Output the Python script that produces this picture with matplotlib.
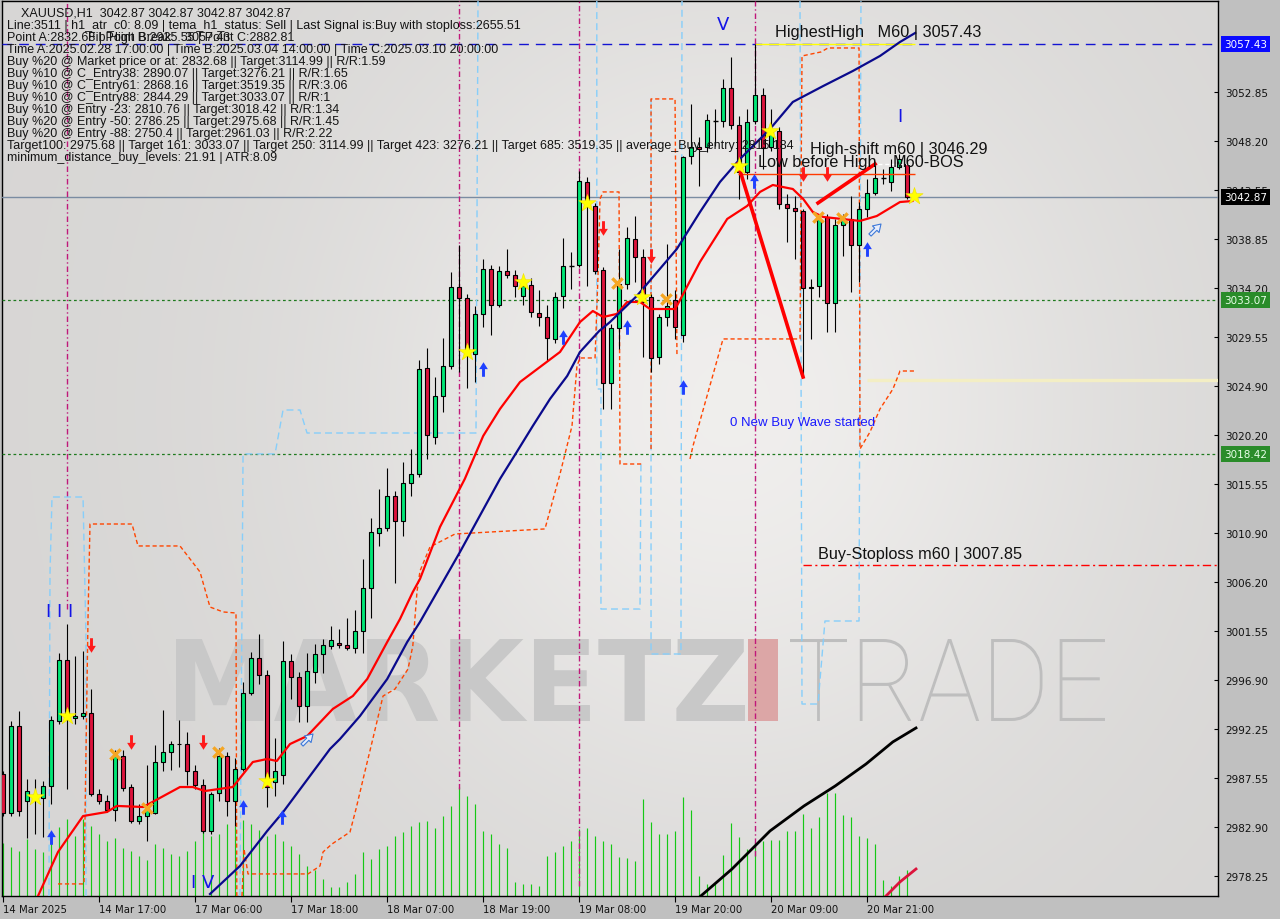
import numpy as np
import matplotlib
matplotlib.use("Agg")
import matplotlib.pyplot as plt
from matplotlib.path import Path
from matplotlib.patches import PathPatch, Rectangle
from matplotlib.textpath import TextPath
from matplotlib.font_manager import FontProperties
from matplotlib.transforms import Affine2D, blended_transform_factory

# ------------------------------------------------------------------ data
time_labels = ["14 Mar 2025", "14 Mar 17:00", "17 Mar 06:00", "17 Mar 18:00", "18 Mar 07:00",
               "18 Mar 19:00", "19 Mar 08:00", "19 Mar 20:00", "20 Mar 09:00", "20 Mar 21:00"]
time_label_bars = [0, 12, 24, 36, 48, 60, 72, 84, 96, 108]

opens = [2987.96, 2984.25, 2992.53, 2985.39, 2985.87, 2985.68, 2986.82, 2993.01, 2998.82, 2993.29,
         2993.48, 2993.77, 2986.06, 2985.39, 2984.54, 2989.63, 2986.72, 2983.49, 2983.96, 2984.25,
         2989.10, 2990.05, 2990.81, 2990.81, 2988.25, 2986.91, 2982.54, 2986.15, 2989.63, 2985.39,
         2988.44, 2995.67, 2999.00, 2997.38, 2987.20, 2987.87, 2998.72, 2997.19, 2994.43, 2997.67,
         2999.38, 3000.14, 3000.43, 3000.24, 2999.95, 3001.57, 3005.66, 3010.90, 3011.37, 3014.42,
         3012.04, 3015.66, 3016.51, 3026.60, 3020.03, 3023.93, 3026.79, 3034.30, 3033.26, 3027.93,
         3031.74, 3036.02, 3032.59, 3035.83, 3035.45, 3033.45, 3034.50, 3031.83, 3031.45, 3029.36,
         3033.45, 3036.30, 3036.40, 3044.30, 3042.01, 3035.92, 3025.17, 3030.40, 3034.59, 3038.87,
         3037.16, 3033.35, 3027.65, 3031.45, 3033.07, 3029.74, 3046.77, 3047.63, 3047.63, 3050.10,
         3050.10, 3053.24, 3049.72, 3045.25, 3050.10, 3052.58, 3047.63, 3049.15, 3042.20, 3041.82,
         3041.54, 3034.21, 3034.40, 3040.97, 3032.78, 3040.21, 3040.78, 3038.30, 3041.73, 3043.25,
         3044.68, 3044.30, 3045.73, 3046.01]
highs = [2988.25, 2993.01, 2993.96, 2987.48, 2987.48, 2987.30, 2993.48, 2999.48, 3002.24, 2999.20,
         2999.67, 2996.05, 2986.53, 2985.96, 2990.29, 2990.29, 2987.01, 2985.11, 2988.82, 2990.72,
         2994.05, 2991.10, 2993.10, 2991.96, 2988.82, 2987.48, 2986.25, 2990.39, 2990.05, 2989.49,
         2996.72, 2999.57, 3001.28, 2997.86, 2991.39, 3000.62, 2999.38, 2997.67, 2999.48, 3000.33,
         3000.81, 3002.05, 3001.76, 3002.81, 3003.57, 3008.42, 3012.33, 3015.08, 3017.08, 3014.89,
         3017.65, 3018.89, 3027.36, 3028.50, 3025.74, 3029.45, 3035.73, 3038.30, 3033.64, 3032.50,
         3036.97, 3036.40, 3036.30, 3037.92, 3035.92, 3035.07, 3035.16, 3034.02, 3032.59, 3033.83,
         3038.97, 3037.64, 3045.34, 3044.77, 3042.30, 3036.21, 3030.78, 3037.92, 3040.02, 3041.06,
         3037.92, 3033.64, 3031.74, 3038.40, 3034.02, 3046.77, 3051.72, 3048.58, 3050.77, 3051.25,
         3054.10, 3056.19, 3050.58, 3051.25, 3057.43, 3053.24, 3051.25, 3049.53, 3043.16, 3042.97,
         3041.73, 3035.07, 3041.25, 3041.25, 3040.78, 3041.25, 3042.97, 3042.39, 3044.58, 3046.01,
         3045.54, 3046.49, 3046.96, 3046.49]
lows = [2983.96, 2983.96, 2983.96, 2981.87, 2982.25, 2981.96, 2985.11, 2992.72, 2986.53, 2992.72,
        2993.20, 2985.87, 2985.11, 2984.35, 2983.49, 2986.34, 2983.30, 2983.20, 2981.59, 2984.16,
        2988.25, 2988.34, 2988.63, 2986.91, 2986.53, 2982.35, 2982.25, 2985.39, 2983.96, 2983.01,
        2988.25, 2995.48, 2996.53, 2984.82, 2985.87, 2987.01, 2995.10, 2992.91, 2992.91, 2996.62,
        2997.57, 2999.86, 2999.95, 2999.76, 2999.48, 2999.48, 3002.81, 3009.66, 3011.09, 3006.14,
        3010.61, 3014.42, 3016.23, 3017.94, 3019.36, 3022.41, 3026.50, 3026.22, 3024.69, 3025.27,
        3030.50, 3029.74, 3032.40, 3035.16, 3033.35, 3032.59, 3031.45, 3030.60, 3027.26, 3028.98,
        3032.31, 3034.11, 3036.21, 3034.40, 3035.54, 3022.70, 3022.70, 3028.41, 3034.11, 3034.78,
        3027.65, 3026.22, 3026.98, 3030.60, 3029.36, 3029.07, 3046.01, 3043.92, 3047.15, 3047.72,
        3049.53, 3049.34, 3042.68, 3044.58, 3049.82, 3045.54, 3047.25, 3041.73, 3038.59, 3036.97,
        3025.74, 3029.36, 3033.35, 3030.02, 3030.02, 3037.26, 3033.83, 3034.78, 3040.97, 3043.06,
        3044.11, 3043.44, 3045.54, 3042.68]
closes = [2984.25, 2992.53, 2984.44, 2986.34, 2985.96, 2986.82, 2993.10, 2998.82, 2993.20, 2993.48,
          2993.77, 2986.06, 2985.39, 2984.54, 2989.63, 2986.63, 2983.49, 2983.96, 2984.92, 2989.10,
          2990.05, 2990.81, 2990.86, 2988.25, 2986.91, 2982.54, 2986.06, 2989.63, 2985.39, 2988.44,
          2995.67, 2999.00, 2997.38, 2986.72, 2988.25, 2998.72, 2997.19, 2994.43, 2997.76, 2999.38,
          3000.24, 3000.72, 3000.24, 2999.95, 3001.57, 3005.66, 3011.00, 3011.37, 3014.42, 3012.04,
          3015.66, 3016.51, 3026.50, 3020.22, 3023.93, 3026.79, 3034.30, 3033.26, 3027.93, 3031.74,
          3036.02, 3032.59, 3035.83, 3035.45, 3034.40, 3034.40, 3031.93, 3031.45, 3029.45, 3033.35,
          3036.30, 3036.30, 3044.39, 3042.11, 3035.83, 3025.17, 3030.40, 3034.59, 3038.97, 3037.16,
          3032.88, 3027.55, 3031.45, 3032.50, 3030.50, 3046.68, 3047.63, 3047.44, 3050.20, 3050.10,
          3053.24, 3049.72, 3045.25, 3050.01, 3052.58, 3047.53, 3049.06, 3042.20, 3041.82, 3041.54,
          3034.21, 3034.30, 3040.78, 3032.78, 3040.21, 3040.78, 3038.30, 3041.73, 3043.25, 3044.68,
          3044.68, 3045.73, 3046.49, 3042.87]
tick_volume = [53, 49, 45, 57, 47, 44, 64, 69, 77, 60, 77, 70,
               62, 55, 58, 48, 45, 40, 36, 52, 48, 42, 40, 45,
               55, 65, 60, 62, 72, 70, 76, 72, 66, 60, 62, 55,
               50, 42, 30, 26, 17, 9, 9, 14, 22, 44, 37, 47,
               50, 60, 64, 70, 74, 75, 68, 80, 90, 109, 100, 92,
               65, 62, 52, 48, 14, 12, 12, 10, 40, 44, 50, 55,
               67, 68, 60, 55, 52, 39, 38, 35, 97, 74, 62, 62,
               65, 99, 86, 20, 12, 12, 41, 73, 59, 47, 54, 55,
               56, 56, 65, 65, 82, 68, 79, 103, 103, 81, 79, 60,
               58, 52, 16, 10, 20, 26]
VOLUME_AXIS_MAX = 895.0

# moving-average style lines (bar position, price)
red_ma_bar = [4.35, 6.85, 9.98, 12.98, 14.2, 17.5, 22.1, 23.7, 25.2, 28.7, 31.2, 33.0, 34.2, 35.85,
              38.0, 41.2, 43.7, 45.5, 48.0, 49.6, 51.2, 52.1, 54.6, 57.7, 60.0, 62.1, 64.6, 67.1,
              69.6, 72.1, 73.7, 75.0, 76.7, 78.0, 79.6, 80.85, 84.0, 85.0, 87.1, 90.5, 93.0, 94.6,
              96.2, 98.7, 100.0, 101.2, 102.5, 107.1, 109.2, 112.1, 113.7]
red_ma_price = [2976.35, 2980.54, 2983.96, 2984.35, 2984.92, 2984.82, 2986.72, 2986.72, 2986.34,
                2986.72, 2989.10, 2989.39, 2989.20, 2990.81, 2991.58, 2994.15, 2995.38, 2997.00,
                3000.52, 3002.71, 3005.28, 3006.52, 3011.47, 3016.04, 3020.13, 3022.70, 3025.26,
                3026.69, 3028.12, 3030.97, 3032.02, 3031.45, 3031.74, 3032.88, 3032.88, 3032.21,
                3032.21, 3033.64, 3036.69, 3040.78, 3042.02, 3043.35, 3044.01, 3043.63, 3042.68,
                3041.44, 3040.97, 3040.59, 3041.06, 3042.39, 3042.49]
navy_ma_bar = [25.85, 29.6, 33.0, 35.0, 40.85, 42.1, 44.6, 48.0, 50.5, 52.1, 57.1, 62.1, 64.2, 66.2,
               68.35, 70.5, 72.1, 74.5, 75.85, 79.2, 84.2, 87.1, 89.6, 92.1, 95.85, 98.7, 102.5,
               106.2, 109.6, 112.1, 114.0]
navy_ma_price = [2976.54, 2979.21, 2982.54, 2984.35, 2990.34, 2991.29, 2993.48, 2997.00, 3000.52,
                 3002.43, 3009.09, 3016.04, 3018.61, 3021.08, 3023.65, 3025.84, 3028.12, 3030.12,
                 3030.97, 3033.45, 3037.92, 3041.44, 3044.30, 3046.49, 3049.34, 3051.91, 3053.43,
                 3054.86, 3056.29, 3057.62, 3058.48]
black_ma_bar = [87.2, 91.1, 95.85, 100.1, 104.0, 107.85, 111.2, 114.1]
black_ma_price = [2976.35, 2978.92, 2982.54, 2984.92, 2986.82, 2988.91, 2991.01, 2992.34]
crimson_ma_bar = [110.35, 112.1, 114.1]
crimson_ma_price = [2976.35, 2977.69, 2978.92]

# step-like channel lines (orange-red dashed and light-blue dashed)
orange_lines = [
    ([6.85, 10.1, 10.6, 10.85, 16.1, 16.85, 22.1, 24.6, 25.85, 27.5, 29.1, 29.2],
     [2977.50, 2977.50, 3002.71, 3011.75, 3011.75, 3009.66, 3009.66, 3007.19, 3003.85, 3003.38,
      3003.28, 2976.35]),
    ([29.85, 30.1, 30.6, 38.1, 39.6, 39.98, 41.1, 43.35, 44.1, 45.2, 46.2, 47.48, 48.98, 50.6, 51.2,
      51.72, 52.1, 53.35, 56.48, 67.72, 69.6, 71.1, 71.72, 72.1, 73.98, 74.35, 74.6, 74.98, 76.98,
      77.1, 79.85],
     [2976.35, 2980.83, 2978.45, 2978.45, 2979.21, 2980.54, 2981.30, 2982.44, 2984.63, 2988.15,
      2991.29, 2995.38, 2996.05, 2997.95, 3000.14, 3005.28, 3007.28, 3009.57, 3010.80, 3011.28,
      3016.51, 3021.08, 3026.79, 3027.55, 3027.55, 3035.35, 3042.68, 3043.35, 3043.35, 3017.46,
      3017.46]),
    ([80.98, 80.98, 83.98, 84.22], [3018.89, 3052.20, 3052.20, 3027.74]),
    ([85.85, 86.22, 89.98, 99.6, 99.85, 102.22, 103.1, 106.98, 107.1, 108.35, 109.6, 111.22, 112.1,
      114.0],
     [3017.94, 3019.17, 3029.36, 3029.36, 3056.29, 3056.67, 3057.05, 3057.05, 3018.89, 3020.51,
      3022.70, 3024.60, 3026.31, 3026.31]),
]
lightblue_lines = [
    ([5.72, 5.85, 6.1, 9.98, 10.35, 10.35], [2976.35, 3007.00, 3014.32, 3014.32, 3000.81, 2976.35]),
    ([29.6, 29.98, 33.98, 34.98, 37.1, 37.98, 59.1, 59.35],
     [2976.35, 3018.42, 3018.42, 3022.60, 3022.60, 3020.41, 3020.41, 3061.52]),
    ([74.2, 74.2, 74.72, 74.72, 79.6, 79.72], [3061.52, 3024.60, 3024.60, 3003.66, 3003.66, 3017.46]),
    ([80.98, 80.98, 84.72, 84.85], [3052.20, 2999.38, 2999.38, 3061.52]),
    ([99.6, 99.85, 101.85, 102.72, 106.98, 107.22],
     [3061.52, 2994.62, 2994.62, 3002.52, 3002.52, 3061.52]),
]
magenta_vlines_bar = [7.98, 56.98, 71.98, 93.98]
magenta_vlines_low = [3003.66, 2986.53, 2977.30, 2980.20]

# signal markers (bar position, price)
star_bar = [3.98, 7.98, 32.98, 57.98, 64.98, 72.98, 79.85, 91.98, 95.85, 113.85]
star_price = [2985.77, 2993.48, 2987.30, 3028.12, 3034.78, 3042.30, 3033.35, 3045.82, 3049.15, 3042.97]
cross_bar = [13.98, 17.98, 26.85, 76.73, 82.85, 101.85, 104.85]
cross_price = [2989.87, 2984.73, 2990.06, 3034.69, 3033.16, 3040.97, 3040.87]
sell_arrow_bar = [10.98, 15.98, 24.98, 74.98, 80.98, 99.98, 102.98]
sell_arrow_price = [3000.24, 2991.01, 2991.01, 3039.92, 3037.26, 3045.06, 3045.06]
buy_arrow_bar = [5.98, 29.98, 34.85, 59.98, 69.98, 77.98, 84.98, 93.85, 107.98]
buy_arrow_price = [2981.97, 2984.82, 2983.87, 3026.50, 3029.55, 3030.50, 3024.79, 3044.39, 3037.92]
hollow_arrow_bar = [37.98, 108.98]
hollow_arrow_price = [2991.29, 3039.82]

# key levels
highest_high = 3057.43
last_price = 3042.87
target_161 = 3033.07
entry_m23_target = 3018.42
buy_stoploss = 3007.85
low_before_high = 3045.06
high_shift_line = 3046.01
wave_level = 3025.46
zigzag_bar = [[91.85, 99.98], [101.85, 108.98]]
zigzag_price = [[3046.01, 3025.74], [3042.30, 3046.01]]

price_ticks = [3052.85, 3048.20, 3043.55, 3038.85, 3034.20, 3029.55, 3024.90, 3020.20, 3015.55,
               3010.90, 3006.20, 3001.55, 2996.90, 2992.25, 2987.55, 2982.90, 2978.25]

info_lines = [
    "Line:3511 | h1_atr_c0: 8.09 | tema_h1_status: Sell | Last Signal is:Buy with stoploss:2655.51",
    "Point A:2832.68 | Point B:2925.55 | Point C:2882.81",
    "Time A:2025.02.28 17:00:00 | Time B:2025.03.04 14:00:00 | Time C:2025.03.10 20:00:00",
    "Buy %20 @ Market price or at: 2832.68 || Target:3114.99 || R/R:1.59",
    "Buy %10 @ C_Entry38: 2890.07 || Target:3276.21 || R/R:1.65",
    "Buy %10 @ C_Entry61: 2868.16 || Target:3519.35 || R/R:3.06",
    "Buy %10 @ C_Entry88: 2844.29 || Target:3033.07 || R/R:1",
    "Buy %10 @ Entry -23: 2810.76 || Target:3018.42 || R/R:1.34",
    "Buy %20 @ Entry -50: 2786.25 || Target:2975.68 || R/R:1.45",
    "Buy %20 @ Entry -88: 2750.4 || Target:2961.03 || R/R:2.22",
    "Target100: 2975.68 || Target 161: 3033.07 || Target 250: 3114.99 || Target 423: 3276.21 || Target 685: 3519.35 || average_Buy_entry: 2815.184",
    "minimum_distance_buy_levels: 21.91 | ATR:8.09",
]
header_line = "XAUUSD,H1  3042.87 3042.87 3042.87 3042.87"

# ------------------------------------------------------------------ figure
W, H = 1280, 920
fig = plt.figure(figsize=(W / 100, H / 100), dpi=100)
fig.patch.set_facecolor('#c0c0c0')
L, R, T, B = 2, 1218, 2, 897
ax = fig.add_axes([L / W, (H - B) / H, (R - L) / W, (B - T) / H])


def axf(px, py):
    return (px - L) / (R - L), (B - py) / (B - T)


# background gradient
gu, gv = np.meshgrid(np.linspace(0, 1, 160), np.linspace(0, 1, 120))
bright = 0.845 + 0.095 * np.exp(-((gu - 0.6) ** 2 / 0.10 + (gv - 0.55) ** 2 / 0.22))
img = np.dstack([bright, bright * 0.994, bright * 0.988])
ax.imshow(img, extent=[0, 1, 0, 1], transform=ax.transAxes, origin='lower', aspect='auto',
          interpolation='bilinear', zorder=0)


# watermark
def path_text(s, prop, box, color, z=1):
    x0, y0, x1, y1 = box
    tp = TextPath((0, 0), s, size=100, prop=prop)
    bb = tp.get_extents()
    ax0, ay1 = axf(x0, y0)
    ax1, ay0 = axf(x1, y1)
    tr = Affine2D().translate(-bb.x0, -bb.y0).scale((ax1 - ax0) / bb.width, (ay1 - ay0) / bb.height) \
        .translate(ax0, ay0) + ax.transAxes
    ax.add_patch(PathPatch(tp, transform=tr, fc=color, ec='none', zorder=z, clip_on=False))


path_text("MARKETZ", FontProperties(family='DejaVu Sans', weight='bold'), (176, 640, 745, 722), '#c8c8c8')
path_text("TRADE", FontProperties(family='Roboto', weight='light'), (790, 640, 1105, 722), '#bebebe')
rx0, ry1 = axf(748, 640)
rx1, ry0 = axf(778, 722)
ax.add_patch(Rectangle((rx0, ry0), rx1 - rx0, ry1 - ry0, transform=ax.transAxes, fc='#dca6a6',
                       ec='none', zorder=1))

x = np.arange(len(opens))
o = np.array(opens); hi = np.array(highs); lo = np.array(lows); c = np.array(closes)

# volume
ax.vlines(x, 0, np.array(tick_volume) / VOLUME_AXIS_MAX, transform=ax.get_xaxis_transform(),
          color='#16c816', lw=0.85, zorder=2, antialiased=True)

# horizontal levels
ax.axhline(highest_high, color='#1414d2', lw=1.0, ls=(0, (7, 5)), zorder=3)
ax.hlines(highest_high, 93.98, 114.0, color='#ffff00', lw=1.0, zorder=3)
ax.axhline(last_price, color='#7a8ca2', lw=1.0, zorder=3)
ax.axhline(target_161, color='#1f7a1f', lw=0.9, ls=(0, (2.2, 2.2)), zorder=3)
ax.axhline(entry_m23_target, color='#1f7a1f', lw=0.9, ls=(0, (2.2, 2.2)), zorder=3)
ax.hlines(buy_stoploss, 99.98, 151.85, color='#ff0000', lw=1.0, ls=(0, (6, 2.5, 1.5, 2.5)), zorder=3)
ax.hlines(wave_level, 107.98, 151.85, color='#f3eec4', lw=2.4, zorder=3)
ax.hlines(low_before_high, 91.85, 114.0, color='#ff3a00', lw=1.0, zorder=7)
ax.hlines(high_shift_line, 105.9, 114.0, color='white', lw=1.0, ls=(0, (3, 2)), zorder=7)

# verticals + channels
for xb, lowp in zip(magenta_vlines_bar, magenta_vlines_low):
    ax.vlines(xb, lowp, 3061.52, color='#c0187a', lw=1.0, ls=(0, (4, 2, 1, 2)), zorder=3)
for bx, py in lightblue_lines:
    ax.plot(bx, py, color='#87cefa', lw=1.0, ls=(0, (5, 3)), zorder=3)
for bx, py in orange_lines:
    ax.plot(bx, py, color='#ff4500', lw=1.0, ls=(0, (3, 2)), zorder=3)

# candles
up = c > o; dn = c < o; dj = c == o
ax.vlines(x, lo, hi, color='black', lw=0.8, zorder=5)
ax.bar(x[up], (c - o)[up], bottom=o[up], width=0.56, color='#00e676', edgecolor='black', lw=0.8, zorder=6)
ax.bar(x[dn], (o - c)[dn], bottom=c[dn], width=0.56, color='#dc143c', edgecolor='black', lw=0.8, zorder=6)
ax.hlines(c[dj], x[dj] - 0.3, x[dj] + 0.3, color='black', lw=1.0, zorder=6)

# moving averages
ax.plot(red_ma_bar, red_ma_price, color='#ff0000', lw=1.6, zorder=7, solid_capstyle='round')
ax.plot(navy_ma_bar, navy_ma_price, color='#0a0a8c', lw=1.6, zorder=7)
ax.plot(black_ma_bar, black_ma_price, color='black', lw=2.0, zorder=7)
ax.plot(crimson_ma_bar, crimson_ma_price, color='#dc143c', lw=2.0, zorder=7)
for zb, zp in zip(zigzag_bar, zigzag_price):
    ax.plot(zb, zp, color='#ff0000', lw=2.6, zorder=7)

# markers
arrow_up = Path([(-0.2, -1.0), (0.2, -1.0), (0.2, 0.05), (0.6, 0.05), (0.0, 1.0), (-0.6, 0.05),
                 (-0.2, 0.05), (-0.2, -1.0)],
                [Path.MOVETO] + [Path.LINETO] * 6 + [Path.CLOSEPOLY])
arrow_down = arrow_up.transformed(Affine2D().scale(1, -1))
arrow_ne = arrow_up.transformed(Affine2D().rotate_deg(-45))
ax.scatter(buy_arrow_bar, buy_arrow_price, marker=arrow_up, s=110, c='#1e40ff', lw=0, zorder=9)
ax.scatter(sell_arrow_bar, sell_arrow_price, marker=arrow_down, s=110, c='#ff1a1a', lw=0, zorder=9)
ax.scatter(hollow_arrow_bar, hollow_arrow_price, marker=arrow_ne, s=90, facecolors='#e8eefc',
           edgecolors='#3c78d8', lw=0.8, zorder=9)
ax.scatter(star_bar, star_price, marker='*', s=170, c='#ffff00', edgecolors='#f0e000', lw=0.4, zorder=10)
ax.scatter(cross_bar, cross_price, marker='x', s=55, c='#f5a623', lw=2.4, zorder=10)

# chart texts
big = dict(family='Liberation Sans', fontsize=11.7, color='#111111', zorder=11)
ax.text(96.5, 3058.57, "HighestHigh   M60 | 3057.43", ha='left', va='center', **big)
ax.text(100.85, 3047.44, "High-shift m60 | 3046.29", ha='left', va='center', **big)
ax.text(94.35, 3046.20, "Low before High", ha='left', va='center', **big)
ax.text(111.2, 3046.20, "M60-BOS", ha='left', va='center', **big)
ax.text(101.85, 3008.99, "Buy-Stoploss m60 | 3007.85", ha='left', va='center', **big)
ax.text(90.85, 3021.46, "0 New Buy Wave started", ha='left', va='center', family='Liberation Sans',
        fontsize=9.5, color='#1a1aff', zorder=11)
roman = dict(family='DejaVu Sans', fontsize=13, color='#1414e6', ha='center', va='center', zorder=11)
ax.text(89.98, 3059.33, "V", **roman)
ax.text(112.1, 3050.58, "I", **roman)
ax.text(7.1, 3003.47, "I I I", **roman)
ax.text(24.98, 2977.68, "I V", **roman)

# info panel
info = dict(family='Liberation Sans', fontsize=9.0, color='#141414', ha='left', va='center',
            transform=ax.transAxes, zorder=12)
ax.text(*axf(21, 13.5), header_line, **info)
for k, line in enumerate(info_lines):
    ax.text(*axf(7, 25.5 + 12 * k), line, **info)
ax.text(*axf(88, 37.5), "Fib High Break:   3057.43", **info)

# axes
ax.set_xlim(-0.15, 151.85)
ax.set_ylim(2976.35, 3061.52)
ax.yaxis.tick_right()
ax.set_yticks(price_ticks)
ax.set_yticklabels([f"{v:.2f}" for v in price_ticks])
ax.tick_params(axis='y', direction='in', length=3, width=0.8, pad=5, labelsize=7.5,
               labelcolor='#111111')
ax.set_xticks(time_label_bars)
ax.set_xticklabels(time_labels, ha='left')
ax.tick_params(axis='x', direction='out', length=4, width=0.8, pad=2, labelsize=7.3,
               labelcolor='#111111')
for sp in ax.spines.values():
    sp.set_color('black')
    sp.set_linewidth(1.0)

trans_r = blended_transform_factory(ax.transAxes, ax.transData)
for val, bg, fg in [(highest_high, '#0a0aff', 'white'), (last_price, 'black', 'white'),
                    (target_161, '#2a8c2a', '#e8ffe8'), (entry_m23_target, '#2a8c2a', '#e8ffe8')]:
    ax.text(1.0 + 6 / (R - L), val, f"{val:.2f}", transform=trans_r, ha='left', va='center',
            fontsize=7.5, color=fg, family='DejaVu Sans',
            bbox=dict(boxstyle='square,pad=0.3', fc=bg, ec='none'), zorder=20, clip_on=False)

fig.savefig('out.png', dpi=100, facecolor=fig.get_facecolor())
